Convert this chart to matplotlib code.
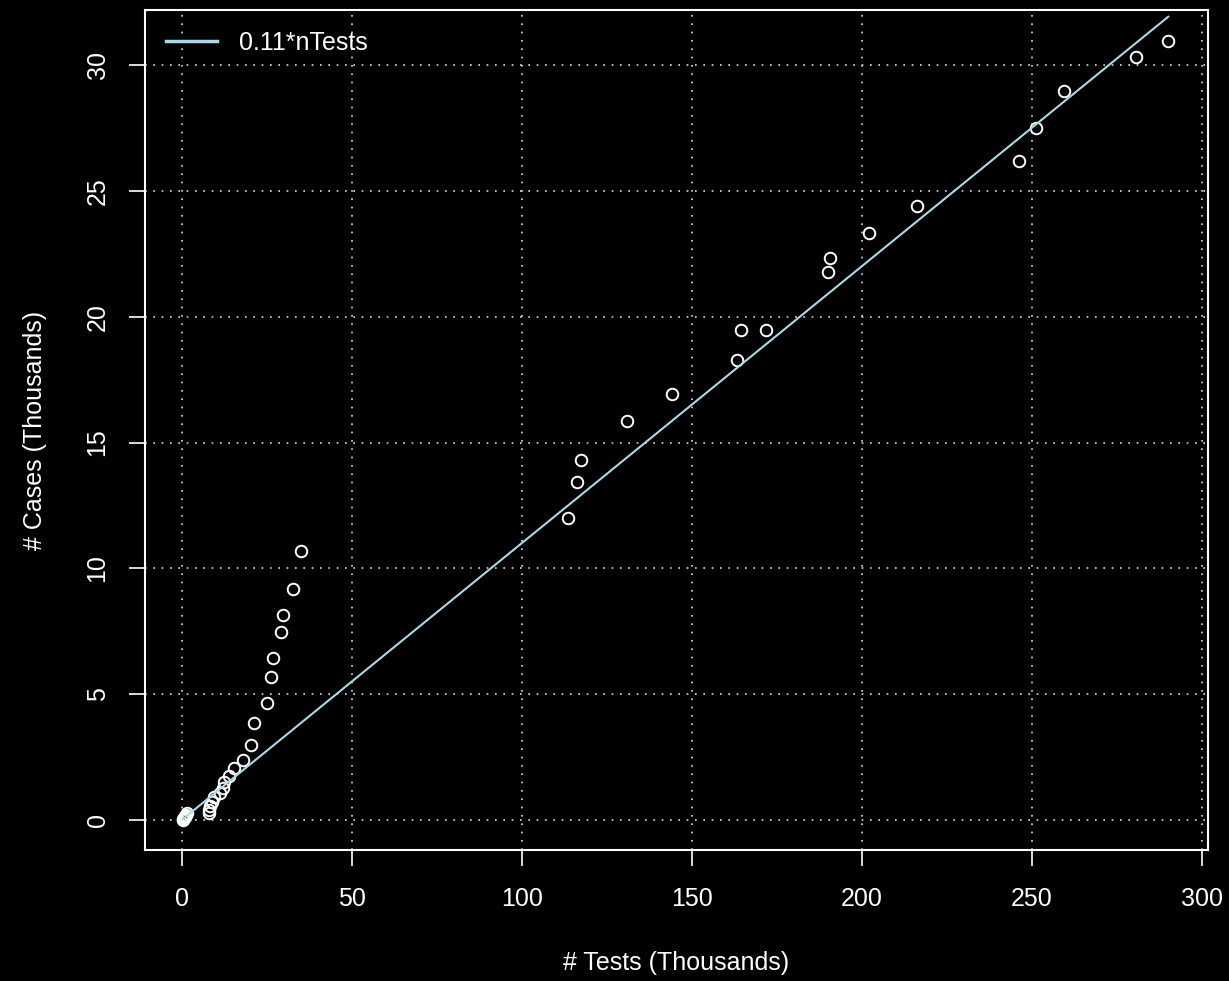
import matplotlib
matplotlib.use("Agg")
import matplotlib.pyplot as plt
import numpy as np

# Data (thousands)
tests = [0.3, 0.5, 0.7, 0.9, 1.1, 1.3, 1.5, 8.1, 8.1, 8.3, 8.8, 9.6, 11.3, 12.2,
         12.5, 14.0, 15.4, 18.1, 20.3, 21.2, 25.0, 26.2, 26.9, 29.1, 29.8, 32.8,
         35.2, 113.6, 116.4, 117.4, 131.1, 144.1, 163.4, 164.6, 171.9, 190.1,
         190.7, 202.1, 216.3, 246.2, 251.3, 259.4, 280.6, 290.2]
cases = [0.02, 0.05, 0.08, 0.12, 0.17, 0.22, 0.28, 0.29, 0.40, 0.56, 0.73, 0.93,
         1.06, 1.26, 1.52, 1.76, 2.08, 2.38, 2.98, 3.87, 4.64, 5.70, 6.44, 7.47,
         8.13, 9.17, 10.69, 12.02, 13.43, 14.32, 15.85, 16.94, 18.30, 19.46, 19.46,
         21.79, 22.34, 23.33, 24.42, 26.17, 27.52, 28.96, 30.33, 30.96]
slope = 0.11
x_ticks = [0, 50, 100, 150, 200, 250, 300]
y_ticks = [0, 5, 10, 15, 20, 25, 30]
legend_label = "0.11*nTests"
xlabel = "# Tests (Thousands)"
ylabel = "# Cases (Thousands)"

plt.rcParams['font.family'] = ['Liberation Sans', 'DejaVu Sans']
W, H = 1229, 981
fig = plt.figure(figsize=(W / 100, H / 100), dpi=100, facecolor='black')
L, R, T, B = 145, 1208, 10, 850
ax = fig.add_axes([L / W, 1 - B / H, (R - L) / W, (B - T) / H], facecolor='black')

ax.set_xlim(-10.8, 301.9)
ax.set_ylim(-1.19, 32.19)

# grid
for gx in x_ticks:
    ax.axvline(gx, color='#DDDDDD', lw=1.2, linestyle=(0, (1, 4.0)), zorder=1)
for gy in y_ticks:
    ax.axhline(gy, color='#DDDDDD', lw=1.2, linestyle=(0, (1, 4.0)), zorder=1)

ax.plot(tests, cases, linestyle='none', marker='o', markersize=8.3,
        markerfacecolor='none', markeredgecolor='white', markeredgewidth=1.4, zorder=3)

xs = np.array([min(tests), max(tests)])
ax.plot(xs, slope * xs, color='#ADD8E6', lw=1.5, zorder=4, label=legend_label)

for s in ax.spines.values():
    s.set_color('white')
    s.set_linewidth(1.5)

ax.set_xticks(x_ticks)
ax.set_yticks(y_ticks)
ax.set_yticklabels([str(v) for v in y_ticks], rotation=90, va='center')
ax.tick_params(axis='both', colors='white', direction='out', length=11.5, width=1.2,
               labelsize=18, labelcolor='white')
ax.tick_params(axis='x', pad=15)
ax.tick_params(axis='y', pad=14)

leg = ax.legend(loc='upper left', bbox_to_anchor=(0.0198, 0.975), frameon=False,
                fontsize=18, handlelength=2.04, handletextpad=0.88,
                borderpad=0, borderaxespad=0, labelcolor='white')
for h in leg.get_lines():
    h.set_linewidth(2.5)

fig.text((L + R) / 2 / W, 1 - 963 / H, xlabel, color='white', fontsize=18,
         ha='center', va='center')
fig.text(35 / W, 1 - (T + B) / 2 / H, ylabel, color='white', fontsize=18,
         ha='center', va='center', rotation=90)

fig.savefig('out.png', dpi=100, facecolor='black')
